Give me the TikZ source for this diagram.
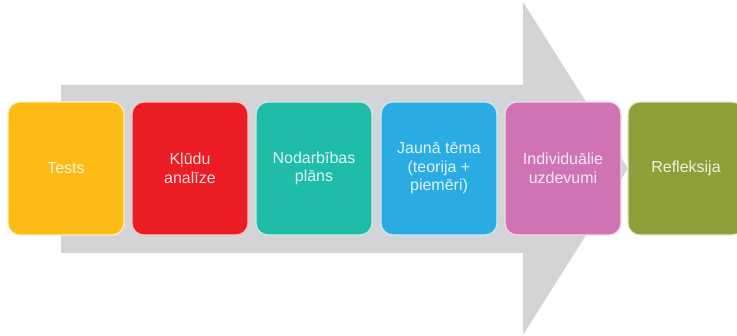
\documentclass[tikz,border=0pt]{standalone}
\usepackage{fontspec}
\setmainfont{Liberation Sans}
\definecolor{cgrey}{HTML}{D2D4D5}
\definecolor{cyellow}{HTML}{FCBC15}
\definecolor{cred}{HTML}{EC1C24}
\definecolor{cteal}{HTML}{1FBCA8}
\definecolor{cblue}{HTML}{2AACE3}
\definecolor{cpink}{HTML}{D073B2}
\definecolor{colive}{HTML}{8D9F38}
\begin{document}
\begin{tikzpicture}[x=1pt,y=-1pt,
  stagebox/.style={rounded corners=12pt, minimum width=116pt, minimum height=133pt,
    inner sep=0pt, align=center, line width=1.2pt,
    font=\fontsize{16}{18.5}\selectfont,
    fill=#1, draw=white!75!#1, text=white!85!#1}]
\useasboundingbox (0,0) rectangle (737,336);
\fill[cgrey] (61,85) -- (523,85) -- (523,2) -- (628,168.5) -- (523,335) -- (523,253) -- (61,253) -- cycle;
\node[stagebox=cyellow] (tests) at (66,168.5) {Tests};
\node[stagebox=cred] (kludu) at (190,168.5) {Kļūdu\\analīze};
\node[stagebox=cteal] (plans) at (314,168.5) {Nodarbības\\plāns};
\node[stagebox=cblue] (tema) at (439,168.5) {Jaunā tēma\\(teorija +\\piemēri)};
\node[stagebox=cpink] (indiv) at (563,168.5) {Individuālie\\uzdevumi};
\node[stagebox=colive] (refl) at (686,168.5) {Refleksija};
\end{tikzpicture}
\end{document}
